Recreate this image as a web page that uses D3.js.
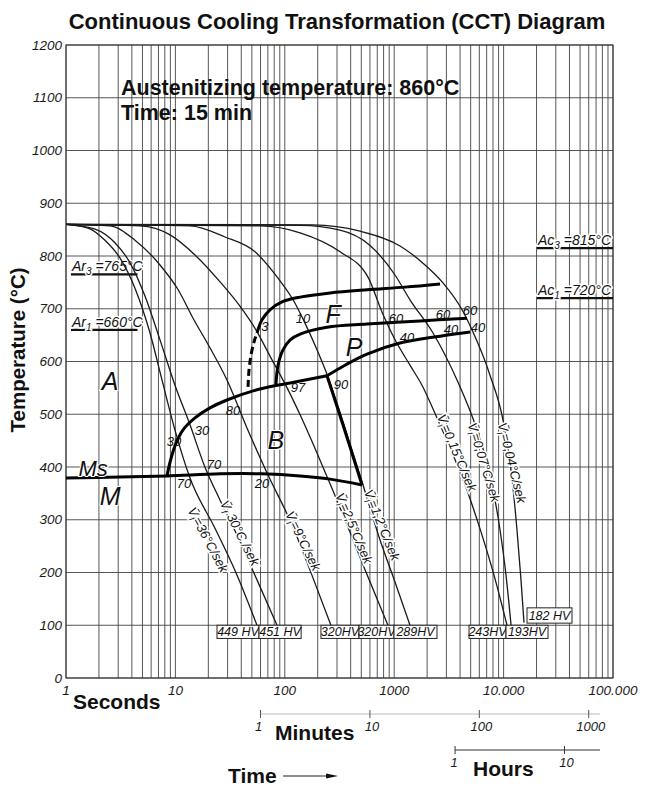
<!DOCTYPE html>
<html><head><meta charset="utf-8">
<script src="https://cdn.jsdelivr.net/npm/d3@7/dist/d3.min.js"></script>
<style>body{margin:0;background:#fff}svg{display:block}</style>
</head><body>
<svg id="c" width="658" height="789"></svg>
<script>
// ---------- data ----------
const tempTicks = [0,100,200,300,400,500,600,700,800,900,1000,1100,1200];
const secTicks = [1,10,100,1000,10000,100000];
const secTickLabels = ["1","10","100","1000","10.000","100.000"];
const minuteTicks = [1,10,100,1000];
const hourTicks = [1,10];

// cooling curves: [time s, temperature °C]
const cool36  = [[1,860],[1.59,853],[2.27,830],[3.12,796],[4.27,739],[5.86,654],[7.54,565],[9.91,470],[13.6,379],[23,284],[36.6,195],[55.7,100]];
const cool30  = [[1,860],[1.84,851],[2.8,825],[3.85,787],[5.27,724],[7.23,641],[9.91,555],[13.6,480],[18.3,404],[25.6,337],[36.6,271],[55.7,186],[84.9,100]];
const cool9   = [[1,860],[2.53,857],[4.27,830],[7.23,783],[10.6,736],[14.5,682],[20.7,626],[29.6,565],[45.1,474],[68.7,389],[119,286],[177,195],[264,100]];
const cool2_5 = [[1,860],[4.75,857],[8.93,840],[15.1,802],[25.6,751],[38.9,705],[54.5,660],[76.4,603],[105,550],[138,499],[210,413],[355,300],[541,205],[877,100]];
const cool1_2 = [[1,860],[13.6,857],[28.4,836],[53.4,808],[86.7,758],[119,717],[156,669],[201,618],[248,571],[355,474],[519,366],[741,262],[1017,182],[1394,100]];
const cool0_15= [[1,860],[59.3,857],[138,844],[320,808],[576,760],[773,694],[996,645],[1394,593],[1795,555],[2462,493],[3376,428],[4628,356],[6214,277],[8170,195],[10740,100]];
const cool0_07= [[1,860],[138,858],[320,849],[601,820],[1017,764],[1394,717],[2264,654],[3750,565],[5710,470],[7510,385],[9270,281],[10520,195],[11700,100]];
const cool0_04= [[1,860],[181,859],[487,847],[1130,819],[1914,783],[2792,749],[4170,698],[5140,660],[7510,574],[9880,489],[11700,394],[13250,281],[14420,186],[15360,105]];

// transformation lines
const ferriteStartDashed = [[46.1,552],[47.1,584],[49.1,612],[52.3,637],[55.7,654]];
const ferriteStart = [[55.7,654],[61.9,679],[73.2,698],[94.3,713],[138,722],[259,730],[564,736],[1255,741],[2624,747]];
const pearliteStart = [[83.1,557],[86.7,593],[96.3,622],[112,641],[138,652],[243,665],[564,671],[1722,677],[4628,682]];
const bainiteStart = [[8.38,383],[8.93,409],[9.91,440],[11.7,470],[15.1,493],[20.7,512],[29.6,527],[59.3,548],[124,561],[243,573]];
const pearliteEnd = [[243,573],[355,593],[564,614],[1130,635],[2624,648],[4932,656]];
const bainiteEnd = [[243,573],[340,480],[508,366]];
const msLine = [[1,379],[3.1,381],[8.38,383],[25.6,387],[62,387],[138,383],[259,377],[508,366]];

// rate labels
const rateNames = ["=36°C/sek"," 30°C /sek","=9°C/sek","=2,5°C/sek","=1,2°C/sek","=0,15°C/sek","=0,07°C/sek","=0,04°C/sek"];
const rateLabelTime = [19.9,38.9,147,429,773,3750,6620,11940];
const rateLabelTemp = [262,275,260,284,290,427,409,408];
const rateLabelAngle = [62,63,64,67,68,67,73,76];

// hardness boxes
const hvText = ["449 HV","451 HV","320HV","320HV","289HV","243HV","193HV","182 HV"];
const hvFrom = [24,58.1,214,477,996,4830,10520,16370];
const hvTo   = [58.1,141,477,996,2461,10520,25470,42200];
const hvTop  = [100,100,100,100,100,100,100,133];
const hvBot  = [75,75,75,75,75,75,75,104];

// small percentage numbers
const pctText = ["3","10","60","60","60","40","40","40","97","90","80","30","30","70","70","20"];
const pctTime = [65.9,147,1038,2792,4932,1309,3306,5834,132,326,33.6,9.7,17.5,22.5,12.0,61.9];
const pctTemp = [667,682,682,690,696,645,660,665,550,557,508,449,470,404,368,368];

// phase letters
const phaseText = ["A","B","F","P","M","Ms"];
const phaseTime = [2.53,83,276,429,2.53,1.77];
const phaseTemp = [563,451,690,627,345,398];

// critical temperatures
const critName = ["Ar","Ar","Ac","Ac"];
const critSub = ["3","1","3","1"];
const critTemp = [765,660,815,720];
const critFrom = [1.11,1.11,20200,20200];
const critTo = [4.5,4.5,100000,100000];

// ---------- drawing ----------
const svg = d3.select("#c");
const x = d3.scaleLog().domain([1,1e5]).range([66,613]);
const y = d3.scaleLinear().domain([0,1200]).range([678,45]);
const INK = "#1a1a1a";

// grid
const g = svg.append("g");
g.selectAll("line.v").data(x.ticks()).join("line")
  .attr("x1",d=>x(d)).attr("x2",d=>x(d)).attr("y1",y(0)).attr("y2",y(1200))
  .attr("stroke","#444").attr("stroke-width",0.9);
g.selectAll("line.h").data(tempTicks).join("line").attr("class","h")
  .attr("x1",x(1)).attr("x2",x(1e5)).attr("y1",d=>y(d)).attr("y2",d=>y(d))
  .attr("stroke","#444").attr("stroke-width",0.9);
svg.append("rect").attr("x",x(1)).attr("y",y(1200)).attr("width",x(1e5)-x(1)).attr("height",y(0)-y(1200))
  .attr("fill","none").attr("stroke","#333").attr("stroke-width",1);

// y tick labels
svg.append("g").selectAll("text").data(tempTicks).join("text")
  .attr("x",62).attr("y",d=>y(d)).attr("dy","0.35em").attr("text-anchor","end")
  .attr("font-family","Liberation Sans, Arial, sans-serif").attr("font-style","italic")
  .attr("font-size",13.5).attr("fill",INK).text(d=>d);

// x tick labels
svg.append("g").selectAll("text").data(secTicks).join("text")
  .attr("x",d=>x(d)).attr("y",695).attr("text-anchor","middle")
  .attr("font-family","Liberation Sans, Arial, sans-serif").attr("font-style","italic")
  .attr("font-size",13.5).attr("fill",INK).text((d,i)=>secTickLabels[i]);

// title etc
const bold = sel => sel.attr("font-family","Liberation Sans, Arial, sans-serif").attr("font-weight","bold").attr("fill","#111");
svg.append("text").attr("x",337).attr("y",29).attr("text-anchor","middle").attr("font-size",22)
  .call(bold).text("Continuous Cooling Transformation (CCT) Diagram");
svg.append("text").attr("x",121).attr("y",95).attr("font-size",21.5).call(bold).text("Austenitizing temperature: 860°C");
svg.append("text").attr("x",121).attr("y",120).attr("font-size",21.5).call(bold).text("Time: 15 min");
svg.append("text").attr("transform","translate(25,350) rotate(-90)").attr("text-anchor","middle")
  .attr("font-size",20.5).call(bold).text("Temperature (°C)");
svg.append("text").attr("x",73).attr("y",709).attr("font-size",21).call(bold).text("Seconds");
svg.append("text").attr("x",275).attr("y",740).attr("font-size",21).call(bold).text("Minutes");
svg.append("text").attr("x",473).attr("y",776).attr("font-size",21).call(bold).text("Hours");
svg.append("text").attr("x",228).attr("y",783).attr("font-size",21).call(bold).text("Time");
svg.append("line").attr("x1",283).attr("x2",328).attr("y1",776).attr("y2",776).attr("stroke","#222").attr("stroke-width",1.2);
svg.append("path").attr("d","M326,773.5 L338,776 L326,778.5 Z").attr("fill","#111");

// minute / hour axes (same time scale)
const small = sel => sel.attr("font-family","Liberation Sans, Arial, sans-serif").attr("font-style","italic").attr("fill",INK);
svg.append("line").attr("x1",x(60*minuteTicks[0])).attr("x2",600).attr("y1",714).attr("y2",714)
  .attr("stroke","#bbb").attr("stroke-width",1.2);
svg.append("g").selectAll("line").data(minuteTicks).join("line")
  .attr("x1",d=>x(60*d)).attr("x2",d=>x(60*d)).attr("y1",710).attr("y2",718).attr("stroke","#555");
svg.append("g").selectAll("text").data(minuteTicks).join("text")
  .attr("x",d=>x(60*d)+(d===1?-2:2)).attr("y",731).attr("text-anchor","middle").attr("font-size",13)
  .call(small).text(d=>d);
svg.append("line").attr("x1",x(3600*hourTicks[0])).attr("x2",600).attr("y1",750).attr("y2",750)
  .attr("stroke","#333").attr("stroke-width",1);
svg.append("g").selectAll("line").data(hourTicks).join("line")
  .attr("x1",d=>x(3600*d)).attr("x2",d=>x(3600*d)).attr("y1",746).attr("y2",754).attr("stroke","#333");
svg.append("g").selectAll("text").data(hourTicks).join("text")
  .attr("x",d=>x(3600*d)+(d===1?-1:2)).attr("y",767).attr("text-anchor","middle").attr("font-size",13)
  .call(small).text(d=>d);

// critical temperature labels
critName.forEach((n,i)=>{
  svg.append("line").attr("x1",x(critFrom[i])).attr("x2",x(critTo[i])).attr("y1",y(critTemp[i])).attr("y2",y(critTemp[i]))
    .attr("stroke","#111").attr("stroke-width",2.2);
  const t = svg.append("text").attr("x",x(critFrom[i])+1).attr("y",y(critTemp[i])-3)
    .attr("font-family","Liberation Sans Narrow, Liberation Sans, sans-serif").attr("font-style","italic")
    .attr("font-size",14).attr("fill","#111")
    .attr("stroke","#fff").attr("stroke-width",3).attr("paint-order","stroke");
  t.append("tspan").text(n);
  t.append("tspan").attr("font-size",10).attr("dy",4).text(critSub[i]);
  t.append("tspan").attr("dy",-4).text(" =" + critTemp[i] + "°C");
});

// cooling curves
const line = d3.line().x(d=>x(d[0])).y(d=>y(d[1])).curve(d3.curveMonotoneX);
const cooling = [cool36,cool30,cool9,cool2_5,cool1_2,cool0_15,cool0_07,cool0_04];
svg.append("g").selectAll("path").data(cooling).join("path")
  .attr("d",line).attr("fill","none").attr("stroke","#1a1a1a").attr("stroke-width",1.3);

// transformation lines
const tline = d3.line().x(d=>x(d[0])).y(d=>y(d[1])).curve(d3.curveCatmullRom.alpha(0.5));
[ferriteStart,pearliteStart,bainiteStart,pearliteEnd,bainiteEnd,msLine].forEach(p=>{
  svg.append("path").attr("d",tline(p)).attr("fill","none").attr("stroke","#000").attr("stroke-width",3).attr("stroke-linejoin","round");
});
svg.append("path").attr("d",tline(ferriteStartDashed)).attr("fill","none").attr("stroke","#000")
  .attr("stroke-width",3).attr("stroke-dasharray","7,4");

// rate labels
rateNames.forEach((r,i)=>{
  const t = svg.append("text")
    .attr("transform",`translate(${x(rateLabelTime[i])},${y(rateLabelTemp[i])}) rotate(${rateLabelAngle[i]})`)
    .attr("text-anchor","middle").attr("dy","0.35em")
    .attr("font-family","Liberation Sans Narrow, Liberation Sans, sans-serif").attr("font-style","italic")
    .attr("font-size",13).attr("fill","#111")
    .attr("stroke","#fff").attr("stroke-width",3).attr("paint-order","stroke");
  t.append("tspan").text("V\u0304");
  t.append("tspan").attr("font-size",9).attr("dy",3).text("f");
  t.append("tspan").attr("dy",-3).text(r);
});

// hardness boxes
hvText.forEach((h,i)=>{
  const x0=x(hvFrom[i]), x1=x(hvTo[i]), y0=y(hvTop[i]), y1=y(hvBot[i]);
  svg.append("rect").attr("x",x0).attr("y",y0).attr("width",x1-x0).attr("height",y1-y0)
    .attr("fill","#fff").attr("stroke","#222").attr("stroke-width",1);
  svg.append("text").attr("x",(x0+x1)/2).attr("y",(y0+y1)/2).attr("dy","0.36em").attr("text-anchor","middle")
    .attr("font-family","Liberation Sans Narrow, Liberation Sans, sans-serif").attr("font-style","italic")
    .attr("font-size",12.5).attr("fill","#111").text(h);
});

// percentages
svg.append("g").selectAll("text").data(pctText).join("text")
  .attr("x",(d,i)=>x(pctTime[i])).attr("y",(d,i)=>y(pctTemp[i])).attr("dy","0.35em").attr("text-anchor","middle")
  .attr("font-family","Liberation Sans Narrow, Liberation Sans, sans-serif").attr("font-style","italic")
  .attr("font-size",13).attr("fill","#111").text(d=>d);

// phase letters
svg.append("g").selectAll("text").data(phaseText).join("text")
  .attr("x",(d,i)=>x(phaseTime[i])).attr("y",(d,i)=>y(phaseTemp[i])).attr("dy","0.35em").attr("text-anchor","middle")
  .attr("font-family","Liberation Sans, Arial, sans-serif").attr("font-style","italic")
  .attr("font-size",(d)=>d==="Ms"?22:25).attr("fill","#111")
  .attr("stroke","#fff").attr("stroke-width",2).attr("paint-order","stroke").text(d=>d);
</script>
</body></html>
